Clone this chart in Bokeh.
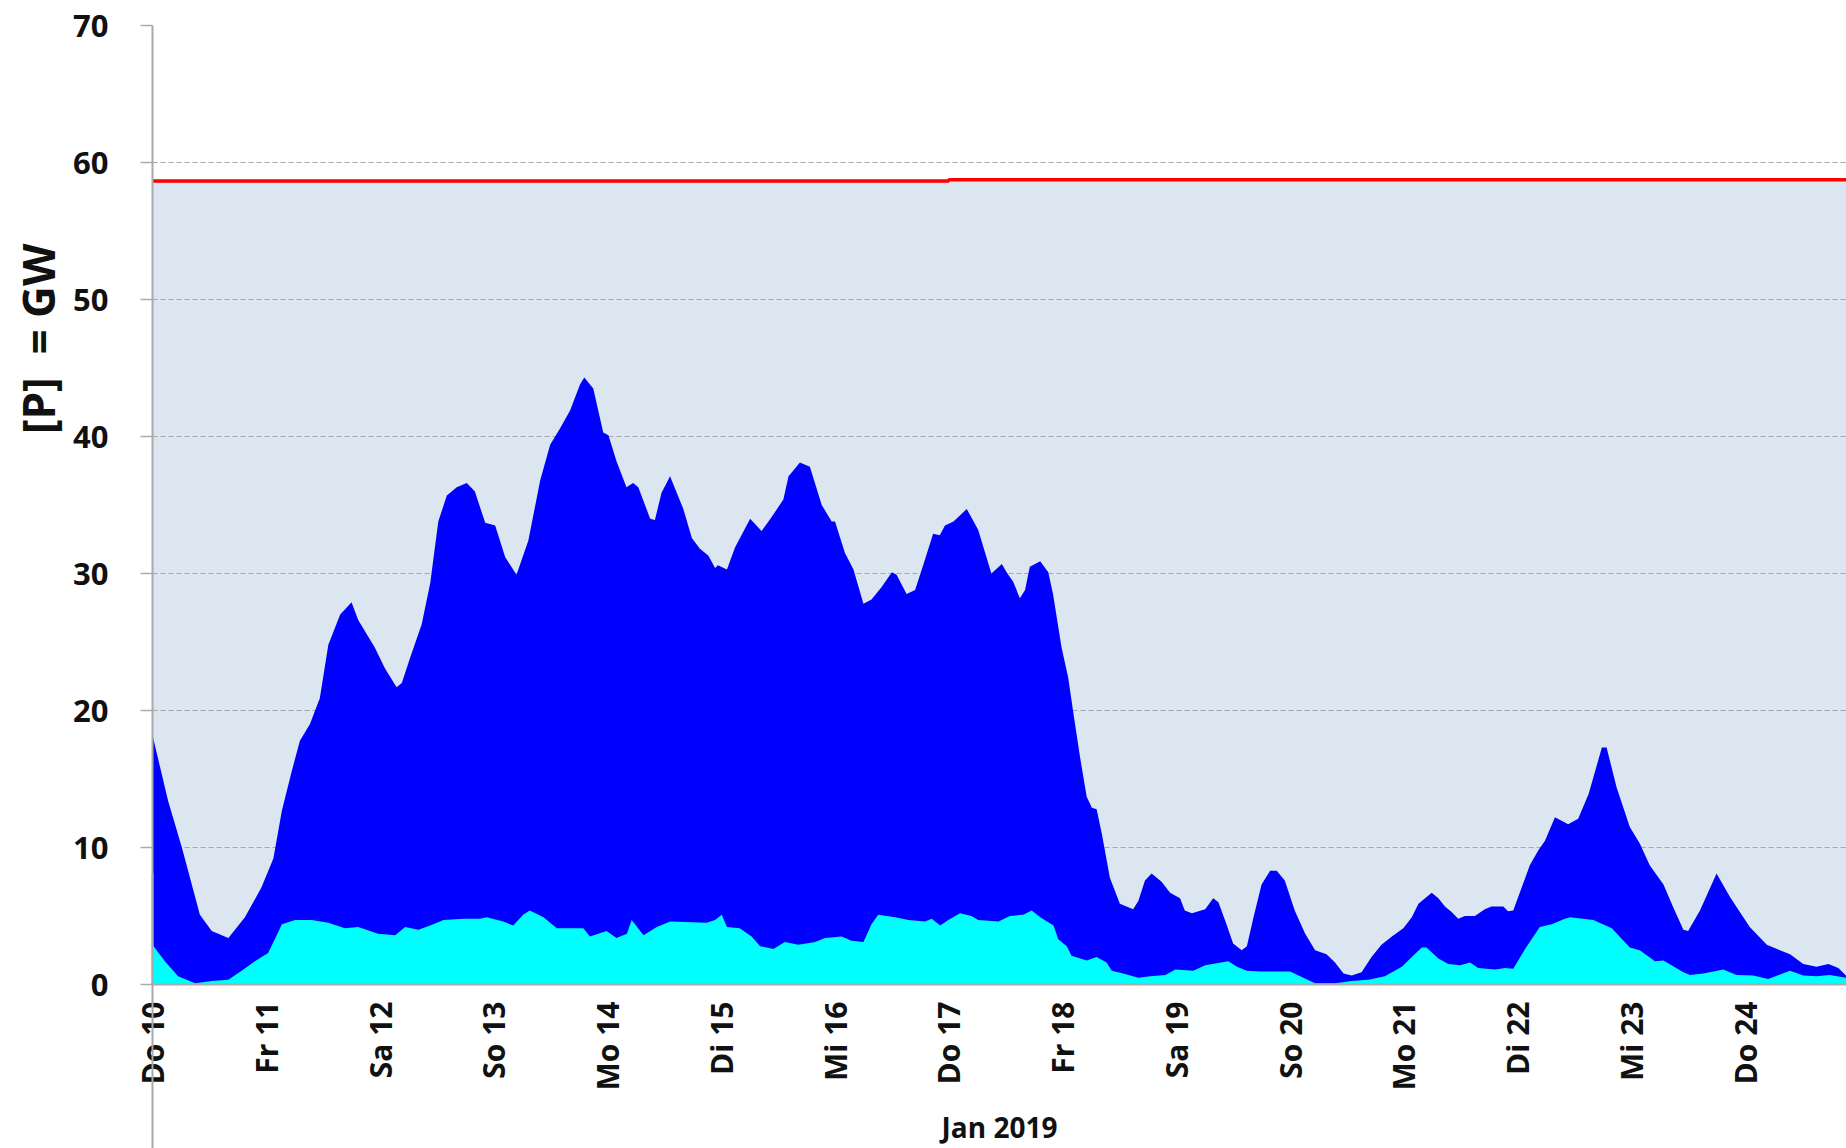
import math
from bokeh.plotting import figure
from bokeh.models import Range1d, FixedTicker, LinearAxis, Title
from bokeh.embed import file_html
from bokeh.resources import INLINE

# ---------------- data ----------------
day_labels = ["Do 10", "Fr 11", "Sa 12", "So 13", "Mo 14", "Di 15", "Mi 16", "Do 17",
              "Fr 18", "Sa 19", "So 20", "Mo 21", "Di 22", "Mi 23", "Do 24"]
tick_days = list(range(len(day_labels)))
y_ticks = [0, 10, 20, 30, 40, 50, 60, 70]
month_label = "Jan 2019"
y_title = "[P]\u00a0 = GW"

# total wind power (top of the blue area), hours since Jan 10 00:00
total_hours = [0, 3.3, 6.2, 10.0, 12.5, 16.0, 19.5, 23.0, 25.5, 27.3, 29.4, 31.1, 33.2, 35.3, 37.1,
               39.6, 42.0, 43.4, 46.9, 49.0, 51.5, 52.6, 54.3, 56.8, 58.6, 60.3, 62.1, 64.2, 66.3,
               68.0, 70.2, 72.3, 74.4, 76.8, 79.3, 81.8, 83.9, 86.0, 88.1, 90.2, 91.1, 93.0, 95.1,
               96.2, 97.9, 100.0, 101.4, 102.5, 105.0, 106.0, 107.4, 109.2, 112.0, 113.8, 115.5,
               117.3, 118.7, 119.3, 121.2, 122.9, 126.1, 128.5, 130.6, 133.1, 134.2, 136.6, 138.7,
               141.2, 143.3, 144.0, 146.1, 147.9, 150.0, 151.7, 153.8, 156.0, 157.0, 159.1, 160.9,
               162.6, 164.7, 166.1, 167.2, 169.0, 171.8, 174.2, 177.0, 179.2, 180.2, 181.6, 183.0,
               184.1, 185.1, 187.3, 189.0, 190.0, 191.8, 193.2, 194.3, 195.7, 197.1, 198.2, 199.2,
               200.3, 202.0, 204.1, 206.9, 208.0, 209.4, 210.8, 212.9, 214.7, 216.8, 217.8, 219.3,
               222.1, 223.8, 224.9, 226.6, 228.0, 229.8, 230.9, 232.3, 234.0, 235.8, 237.2, 238.9,
               241.0, 243.2, 245.3, 247.7, 249.5, 251.3, 253.0, 255.1, 257.2, 259.3, 261.5, 263.9,
               265.7, 267.1, 269.9, 271.3, 272.7, 274.1, 275.5, 276.9, 279.0, 281.1, 282.5, 285.0,
               286.0, 287.1, 288.9, 290.6, 292.4, 293.8, 295.9, 298.7, 300.8, 303.0, 305.8, 306.8,
               308.9, 311.7, 313.8, 315.9, 318.8, 320.9, 323.0, 324.0, 326.5, 330.0, 332.8, 337.0,
               340.6, 345.5, 348.3, 351.1, 353.6, 355.7, 357.3]
total_gw = [18.2, 13.4, 10.0, 5.1, 3.9, 3.4, 4.9, 7.1, 9.2, 12.7, 15.6, 17.8, 19.0, 20.9, 24.8,
            27.0, 27.9, 26.6, 24.6, 23.1, 21.7, 22.0, 23.8, 26.3, 29.3, 33.8, 35.7, 36.3, 36.6,
            36.0, 33.7, 33.5, 31.2, 29.9, 32.4, 36.8, 39.4, 40.6, 41.9, 43.8, 44.3, 43.5, 40.3,
            40.1, 38.2, 36.3, 36.6, 36.3, 34.0, 33.9, 35.9, 37.1, 34.7, 32.6, 31.8,
            31.3, 30.4, 30.6, 30.3, 31.9, 34.0, 33.1, 34.1, 35.4, 37.1, 38.1, 37.8,
            35.0, 33.8, 33.8, 31.5, 30.3, 27.8, 28.1, 29.0, 30.1, 29.9, 28.5, 28.8,
            30.6, 32.9, 32.8, 33.5, 33.8, 34.7, 33.2, 30.0, 30.7, 30.1, 29.4, 28.2,
            28.8, 30.5, 30.9, 30.1, 28.5, 24.6, 22.4, 19.8, 16.6, 13.7, 12.9, 12.8,
            11.0, 7.8, 5.9, 5.5, 6.1, 7.6, 8.1, 7.5, 6.7, 6.3, 5.4, 5.2,
            5.5, 6.3, 6.0, 4.4, 3.0, 2.5, 2.8, 4.9, 7.3, 8.3, 8.3, 7.6,
            5.4, 3.7, 2.5, 2.2, 1.6, 0.8, 0.65, 0.9, 2.0, 2.9, 3.5, 4.1,
            4.9, 5.9, 6.7, 6.3, 5.7, 5.3, 4.8, 5.0, 5.0, 5.5, 5.7, 5.7,
            5.35, 5.4, 7.1, 8.7, 9.8, 10.5, 12.2, 11.7, 12.1, 13.9, 17.3, 17.3,
            14.4, 11.5, 10.3, 8.7, 7.3, 5.6, 4.0, 3.9, 5.4, 8.1, 6.4, 4.2,
            2.9, 2.2, 1.5, 1.3, 1.5, 1.2, 0.65]

# offshore share (top of the cyan area)
offshore_hours = [0, 2.6, 5.4, 9.0, 12.5, 16.0, 18.8, 21.6, 24.4, 26.2, 27.3, 30.1, 33.6, 37.1, 40.6,
                  43.4, 47.6, 51.2, 53.3, 56.1, 58.6, 61.4, 65.6, 69.1, 70.5, 74.0, 76.1, 78.2, 79.6,
                  82.5, 85.3, 90.9, 92.3, 95.8, 97.9, 100.1, 101.1, 103.6, 106.4, 109.2, 116.9, 118.7,
                  120.1, 121.2, 123.9, 126.4, 128.2, 131.0, 133.4, 136.3, 139.8, 141.9, 145.4, 147.5,
                  150.0, 151.7, 153.1, 156.7, 159.5, 163.0, 164.4, 166.2, 167.9, 170.4, 172.8, 174.2,
                  178.5, 180.9, 183.7, 185.5, 187.3, 190.1, 191.1, 192.9, 193.9, 197.1, 199.2, 201.3,
                  202.4, 204.8, 208.0, 210.5, 213.7, 215.8, 219.6, 222.1, 227.0, 228.8, 230.9, 233.7,
                  240.0, 241.8, 245.3, 249.5, 253.0, 256.5, 260.0, 263.6, 265.7, 267.8, 268.8, 271.3,
                  273.4, 275.9, 278.0, 279.7, 283.3, 285.4, 287.1, 289.6, 292.7, 295.2, 298.0, 299.1,
                  304.0, 307.9, 311.7, 313.8, 317.0, 318.8, 323.0, 324.4, 327.2, 331.4, 334.2, 337.7,
                  340.9, 345.5, 348.3, 351.1, 353.9, 357.3]
offshore_gw = [2.9, 1.7, 0.6, 0.1, 0.25, 0.35, 1.0, 1.7, 2.3, 3.6, 4.4, 4.7, 4.7, 4.5, 4.1,
               4.2, 3.7, 3.6, 4.2, 4.0, 4.3, 4.7, 4.8, 4.8, 4.9, 4.6, 4.3, 5.1, 5.4,
               4.9, 4.1, 4.1, 3.5, 3.9, 3.4, 3.7, 4.7, 3.6, 4.2, 4.6, 4.5, 4.7,
               5.1, 4.2, 4.1, 3.5, 2.8, 2.6, 3.1, 2.9, 3.1, 3.4, 3.5, 3.2,
               3.1, 4.4, 5.1, 4.9, 4.7, 4.6, 4.8, 4.3, 4.7, 5.2, 5.0, 4.7,
               4.6, 5.0, 5.1, 5.4, 4.9, 4.3, 3.3, 2.8, 2.1, 1.75, 2.0, 1.6,
               1.0, 0.8, 0.5, 0.6, 0.7, 1.1, 1.0, 1.4, 1.7, 1.3, 1.0, 0.95,
               0.95, 0.65, 0.1, 0.1, 0.25, 0.35, 0.6, 1.3, 2.0, 2.7, 2.7, 1.9,
               1.5, 1.4, 1.6, 1.2, 1.1, 1.2, 1.15, 2.6, 4.2, 4.4, 4.8, 4.9,
               4.7, 4.1, 2.7, 2.5, 1.7, 1.75, 0.9, 0.7, 0.8, 1.1, 0.7, 0.65,
               0.4, 1.0, 0.65, 0.6, 0.7, 0.5]

# installed capacity (light area, red line), per day
cap_days = list(range(16))
cap_gw = [58.65, 58.65, 58.65, 58.65, 58.65, 58.65, 58.65, 58.75,
          58.75, 58.75, 58.75, 58.75, 58.75, 58.75, 58.75, 58.75]

# ---------------- layout ----------------
W, H = 1846, 1148
LEFT, TOP, BOTTOM = 152, 25, 164
PX_PER_DAY = 113.75
x_end = (W - LEFT) / PX_PER_DAY

FONT = "Open Sans"
AXIS_GREY = "#aaaaaa"
TEXT = "#111111"

p = figure(width=W, height=H, output_backend="svg", toolbar_location=None,
           x_range=Range1d(0, x_end), y_range=Range1d(0, y_ticks[-1]),
           min_border_left=LEFT, min_border_right=0, min_border_top=TOP, min_border_bottom=BOTTOM)
p.title.visible = False
p.outline_line_color = None
p.background_fill_color = "white"
p.border_fill_color = "white"

total_days = [h / 24 for h in total_hours]
offshore_days = [h / 24 for h in offshore_hours]

cap_area = p.varea_step(x=cap_days, y1=0, y2=cap_gw, step_mode="after", fill_color="#dce6f1")
cap_area.level = "image"
p.varea(x=total_days, y1=0, y2=total_gw, fill_color="#0000ff")
p.varea(x=offshore_days, y1=0, y2=offshore_gw, fill_color="#00ffff")
p.step(x=cap_days, y=cap_gw, mode="after", line_color="#ff0000", line_width=3.5)

# grid
p.xgrid.visible = False
p.ygrid.ticker = FixedTicker(ticks=y_ticks)
p.ygrid.grid_line_color = "#a6a6a6"
p.ygrid.grid_line_dash = "5 3"
p.ygrid.grid_line_width = 1
p.ygrid.level = "underlay"

# y axis
ya = p.yaxis[0]
ya.ticker = FixedTicker(ticks=y_ticks)
ya.axis_line_color = AXIS_GREY
ya.axis_line_width = 2
ya.major_tick_line_color = AXIS_GREY
ya.major_tick_line_width = 1.5
ya.major_tick_out = 12
ya.major_tick_in = 0
ya.minor_tick_out = 0
ya.minor_tick_in = 0
ya.major_label_standoff = 32
ya.major_label_text_font = FONT
ya.major_label_text_font_style = "bold"
ya.major_label_text_font_size = "31px"
ya.major_label_text_color = TEXT

# y title, placed in the left margin
p.add_layout(Title(text=y_title, align="right", offset=218, vertical_align="bottom",
                   standoff=6, text_font=FONT, text_font_style="bold",
                   text_font_size="44px", text_color=TEXT), "left")

# x axis: day labels
xa = p.xaxis[0]
xa.ticker = FixedTicker(ticks=tick_days)
xa.major_label_overrides = {d: lab for d, lab in zip(tick_days, day_labels)}
xa.major_label_orientation = math.pi / 2
xa.axis_line_color = AXIS_GREY
xa.axis_line_width = 2
xa.major_tick_out = 0
xa.major_tick_in = 0
xa.minor_tick_out = 0
xa.minor_tick_in = 0
xa.major_label_standoff = 17
xa.major_label_text_font = FONT
xa.major_label_text_font_style = "bold"
xa.major_label_text_font_size = "30px"
xa.major_label_text_color = TEXT

# second level: month label with the group separator line at the first day
xm = LinearAxis(ticker=FixedTicker(ticks=[tick_days[0]]),
                major_label_text_font_size="1px",
                major_label_text_color=None,
                axis_line_color=None,
                major_tick_line_color=AXIS_GREY, major_tick_line_width=2,
                major_tick_in=220, major_tick_out=64,
                minor_tick_in=0, minor_tick_out=0,
                axis_label=month_label, axis_label_standoff=-50,
                axis_label_text_font=FONT, axis_label_text_font_style="bold",
                axis_label_text_font_size="28px", axis_label_text_color=TEXT)
p.add_layout(xm, "below")

open("out.html", "w").write(file_html(p, INLINE))
